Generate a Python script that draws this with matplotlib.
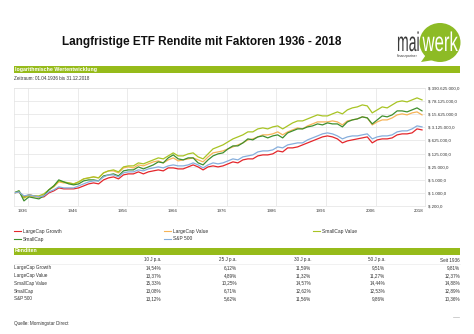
import numpy as np
import matplotlib
matplotlib.use("Agg")
import matplotlib.pyplot as plt
from matplotlib.patches import Rectangle, Ellipse, PathPatch, Polygon
from matplotlib.textpath import TextPath
from matplotlib.font_manager import FontProperties
from matplotlib.transforms import Affine2D

plt.rcParams['font.family'] = ['Liberation Sans', 'DejaVu Sans']

# Wertentwicklung von 1.000 $ (Jahresende, log. Skala)
years = list(range(1936, 2019))

large_growth = [1000, 1130, 612, 782, 692, 612, 612, 1000, 1280, 1850,
                1640, 1640, 1640, 1850, 2360, 3020, 3410, 3020, 4930, 6310,
                7130, 5580, 9110, 10300, 10300, 13200, 10300, 13200, 14900, 16800,
                14900, 21500, 21500, 19000, 19000, 24300, 31100, 24300, 16800, 24300,
                27500, 24300, 27500, 35200, 45000, 39800, 57500, 65000, 65000, 93900,
                106000, 106000, 120000, 173000, 153000, 251000, 251000, 283000, 362000, 463000,
                591000, 756000, 966000, 1090000, 966000, 756000, 463000, 591000, 669000, 756000,
                855000, 966000, 463000, 669000, 756000, 756000, 855000, 1240000, 1400000, 1400000,
                1580000, 2580000, 2280000]
large_value = [1000, 1130, 541, 692, 612, 612, 782, 1450, 2090, 3860,
               3410, 3410, 3020, 3860, 5580, 6310, 7130, 6310, 11700, 14900,
               14900, 11700, 21500, 24300, 21500, 31100, 27500, 35200, 45000, 50800,
               39800, 57500, 73500, 50800, 57500, 65000, 73500, 57500, 45000, 83000,
               136000, 153000, 173000, 222000, 283000, 362000, 463000, 669000, 756000, 966000,
               1240000, 1240000, 1400000, 1790000, 1240000, 1790000, 2280000, 2920000, 2580000, 3730000,
               4760000, 6090000, 6090000, 6090000, 6880000, 6090000, 4210000, 6880000, 7780000, 8800000,
               11300000, 9950000, 4210000, 6090000, 7780000, 7780000, 9950000, 14400000, 16300000, 14400000,
               18400000, 20800000, 14400000]
small_value = [1000, 1280, 541, 782, 692, 692, 884, 1450, 2360, 4360,
               3860, 3410, 3020, 3860, 5580, 6310, 7130, 6310, 11700, 14900,
               16800, 13200, 24300, 27500, 27500, 39800, 35200, 45000, 57500, 73500,
               65000, 93900, 136000, 93900, 93900, 120000, 136000, 83000, 65000, 120000,
               222000, 283000, 362000, 523000, 756000, 966000, 1240000, 1790000, 1790000, 2580000,
               2920000, 2580000, 3300000, 3730000, 2580000, 3730000, 5390000, 6880000, 6880000, 8800000,
               11300000, 14400000, 12700000, 12700000, 16300000, 20800000, 16300000, 26600000, 34000000, 38400000,
               49100000, 43400000, 18400000, 26600000, 38400000, 34000000, 49100000, 70900000, 80200000, 70900000,
               90600000, 116000000, 90600000]
small_cap = [1000, 1280, 375, 612, 541, 479, 692, 1450, 2360, 4930,
             3860, 3020, 2670, 3020, 4360, 4930, 4930, 4360, 8060, 9110,
             10300, 8060, 14900, 16800, 16800, 24300, 19000, 24300, 31100, 45000,
             39800, 73500, 106000, 65000, 57500, 73500, 73500, 39800, 31100, 57500,
             93900, 120000, 136000, 222000, 320000, 320000, 463000, 756000, 669000, 966000,
             1090000, 855000, 1090000, 1240000, 855000, 1580000, 2020000, 2580000, 2580000, 3300000,
             3730000, 4760000, 4210000, 5390000, 4760000, 4760000, 3300000, 6090000, 7780000, 8800000,
             11300000, 9950000, 4760000, 7780000, 12700000, 11300000, 14400000, 23500000, 23500000, 20800000,
             26600000, 34000000, 23500000]
sp500 = [1000, 1130, 692, 782, 692, 612, 692, 1130, 1450, 2090,
         1850, 1850, 1850, 2360, 3020, 3860, 4360, 4360, 7130, 9110,
         9110, 7130, 11700, 13200, 13200, 16800, 14900, 19000, 21500, 24300,
         21500, 27500, 31100, 27500, 27500, 31100, 39800, 31100, 21500, 31100,
         39800, 35200, 39800, 50800, 65000, 57500, 83000, 93900, 106000, 153000,
         173000, 173000, 196000, 283000, 251000, 362000, 409000, 463000, 463000, 669000,
         855000, 1090000, 1400000, 1580000, 1400000, 1090000, 756000, 966000, 1090000, 1090000,
         1240000, 1400000, 756000, 966000, 1090000, 1090000, 1240000, 1790000, 2020000, 2020000,
         2580000, 3730000, 3300000]

series_names = ["LargeCap Growth", "LargeCap Value", "SmallCap Value", "SmallCap", "S&P 500"]
series_values = [large_growth, large_value, small_value, small_cap, sp500]
series_colors = ["#e4262b", "#f6b457", "#a8c424", "#3f8f2e", "#86aedc"]

y_ticks = [200, 1000, 5000, 25000, 125000, 625000, 3125000, 15625000, 78125000, 390625000]
x_labels = ["1936", "1946", "1956", "1966", "1976", "1986", "1996", "2006", "2018"]

table_cols = ["10 J p.a.", "25 J p.a.", "30 J p.a.", "50 J p.a.", "Seit 1936"]
table_rows = [
    ["14,54%", "6,12%", "11,59%", "9,51%", "9,81%"],
    ["13,37%", "4,89%", "11,32%", "11,27%", "12,37%"],
    ["15,33%", "10,25%", "14,57%", "14,44%", "14,88%"],
    ["13,08%", "6,71%", "12,62%", "12,53%", "12,89%"],
    ["13,12%", "5,62%", "11,56%", "9,86%", "10,36%"],
]

W, H = 474, 334
green = "#96bb1a"
grey_text = "#333333"


def fx(x):
    return x / W


def fy(y):
    return 1 - y / H


def de_fmt(v):
    s = f"{v:,.1f}".replace(",", "X").replace(".", ",").replace("X", ".")
    return "$ " + s


def logo_text(s, x, y, size, sx, color):
    # schmal gezogener Schriftzug (Pixelkoordinaten, y = Grundlinie)
    tp = TextPath((0, 0), s, size=size, prop=FontProperties(family="Liberation Sans"))
    tr = Affine2D().scale(sx / W, 1 / H).translate(fx(x), fy(y)) + fig.transFigure
    fig.add_artist(PathPatch(tp, transform=tr, color=color, lw=0))


fig = plt.figure(figsize=(W / 100, H / 100), dpi=100)

# Titel + Logo
fig.text(fx(202), fy(42), "Langfristige ETF Rendite mit Faktoren 1936 - 2018",
         fontsize=8.5, fontweight="bold", ha="center", va="center", color="#111111")
fig.add_artist(Ellipse((fx(440), fy(42.5)), 41 / W, 39 / H, transform=fig.transFigure,
                       color="#8dbb25", lw=0))
fig.add_artist(Polygon([(fx(421), fy(62)), (fx(428), fy(52)), (fx(434), fy(60))],
                       closed=True, transform=fig.transFigure, color="#8dbb25", lw=0))
logo_text("mai", 397, 51, 27, 0.52, "#3a3a3a")
logo_text("werk", 422.5, 51, 27, 0.62, "white")
fig.text(fx(397), fy(56.5), "finanzpartner", fontsize=2.4, ha="left", va="center", color="#3a3a3a")

# Balken "logarithmische Wertentwicklung"
fig.add_artist(Rectangle((fx(14), fy(73)), (460 - 14) / W, 7 / H, transform=fig.transFigure,
                         color=green, lw=0))
fig.text(fx(15), fy(69.5), "logarithmische Wertentwicklung", fontsize=3.8, fontweight="bold",
         color="white", ha="left", va="center")
fig.text(fx(14), fy(79), "Zeitraum: 01.04.1936 bis 31.12.2018", fontsize=3.3,
         color=grey_text, ha="left", va="center")

# Chart
ax = fig.add_axes([fx(14), fy(206), 411 / W, 118 / H])
for vals, col, name in zip(series_values, series_colors, series_names):
    ax.plot(years, vals, color=col, lw=0.9, label=name)
ax.set_yscale("log")
ax.set_ylim(y_ticks[0], y_ticks[-1])
ax.set_xlim(1936, 2018.6)
ax.yaxis.tick_right()
ax.set_yticks(y_ticks)
ax.set_yticklabels([de_fmt(v) for v in y_ticks])
ax.yaxis.set_minor_locator(matplotlib.ticker.NullLocator())
grid_x = [1938.8, 1948.8, 1958.8, 1968.8, 1978.8, 1988.7, 1998.7, 2008.7]
ax.set_xticks(grid_x + [2018.2])
ax.set_xticklabels(x_labels, ha="right")
ax.tick_params(axis="both", length=0, labelsize=3.2, colors=grey_text)
ax.tick_params(axis="y", pad=2)
ax.tick_params(axis="x", pad=2.5)
ax.grid(axis="y", color="#e3e3e3", lw=0.5)
for gx in grid_x:
    ax.axvline(gx, color="#e3e3e3", lw=0.5, zorder=0)
for sp in ax.spines.values():
    sp.set_color("#e3e3e3")
    sp.set_linewidth(0.5)

# Legende
leg_pos = [(14, 231), (164, 231), (313, 231), (14, 239), (164, 239)]
for (lx, ly), col, name in zip(leg_pos, series_colors, series_names):
    fig.add_artist(plt.Line2D([fx(lx), fx(lx + 7)], [fy(ly), fy(ly)], color=col, lw=0.8,
                              transform=fig.transFigure))
    fig.text(fx(lx + 9), fy(ly), name, fontsize=3.5, color=grey_text, ha="left", va="center")

# Tabelle "Renditen"
fig.add_artist(Rectangle((fx(14), fy(254.5)), (460 - 14) / W, 7 / H, transform=fig.transFigure,
                         color=green, lw=0))
fig.text(fx(15), fy(251), "Renditen", fontsize=3.8, fontweight="bold", color="white",
         ha="left", va="center")
col_x = [161, 237, 311, 385, 460]
for cx, c in zip(col_x, table_cols):
    fig.text(fx(cx), fy(260), c, fontsize=3.3, color=grey_text, ha="right", va="center")
fig.add_artist(plt.Line2D([fx(14), fx(460)], [fy(263.5), fy(263.5)], color="#e6e6e6", lw=0.4,
                          transform=fig.transFigure))
row_y = [268, 275.5, 283, 291, 298.5]
for ry, name, row in zip(row_y, series_names, table_rows):
    fig.text(fx(14), fy(ry), name, fontsize=3.3, color=grey_text, ha="left", va="center")
    for cx, v in zip(col_x, row):
        fig.text(fx(cx), fy(ry), v, fontsize=3.3, color=grey_text, ha="right", va="center")

fig.text(fx(14), fy(323), "Quelle: Morningstar Direct", fontsize=3.3, color=grey_text,
         ha="left", va="center")
fig.add_artist(plt.Line2D([fx(453), fx(459)], [fy(317), fy(317)], color="#bbbbbb", lw=0.5,
                          transform=fig.transFigure))

fig.savefig("out.png", dpi=100)
